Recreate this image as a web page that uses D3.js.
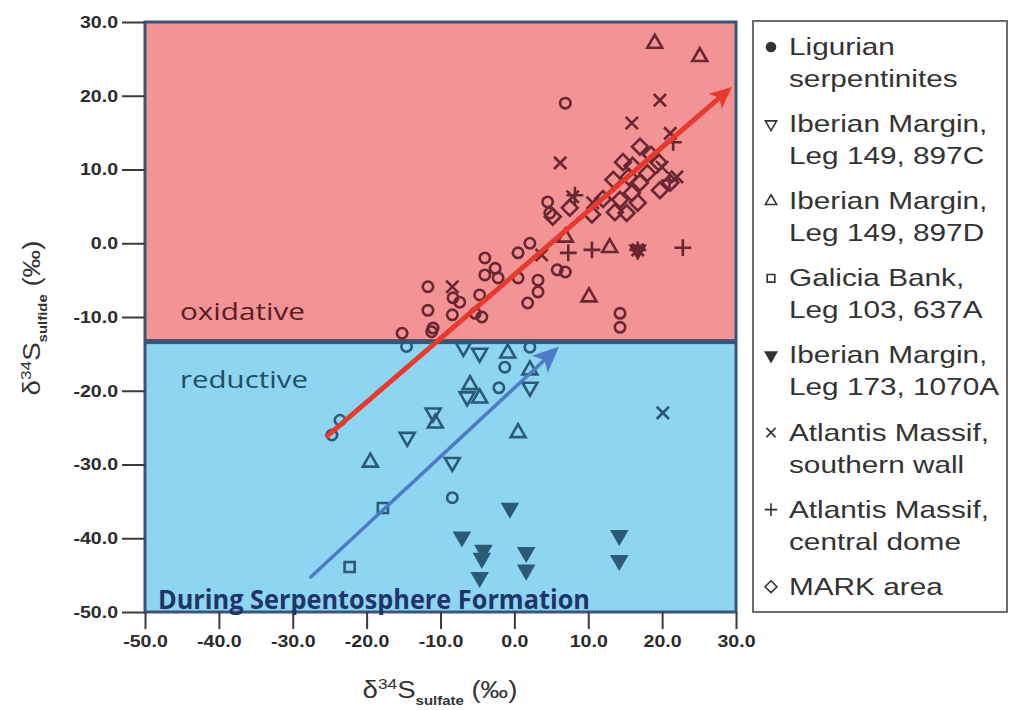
<!DOCTYPE html>
<html>
<head>
<meta charset="utf-8">
<style>
    body { margin: 0; background: #fff; }
    svg { display: block; }
    .tick text { font-family: "Liberation Sans", Arial, sans-serif; font-weight: bold; font-size: 17px; fill: #2b2b2b; }
    .tick line { stroke: #3a3a3a; stroke-width: 2; }
    .legend text { font-family: "Liberation Sans", Arial, sans-serif; font-size: 24px; fill: #333; }
    .title { font-family: "Liberation Sans", Arial, sans-serif; font-size: 24px; fill: #333; }
</style>
</head>
<body>
<div id="chart"></div>
<script src="https://cdn.jsdelivr.net/npm/d3@7"></script>
<script>

//////////////////// data ////////////////////
const xTicks = [-50, -40, -30, -20, -10, 0, 10, 20, 30];
const yTicks = [-50, -40, -30, -20, -10, 0, 10, 20, 30];
const boundary = -13.2; // oxidative above, reductive below

// [sulfate, sulfide]
const ligurian = [
    [6.9, 19.0], [-11.7, -5.9], [-11.7, -9.1], [-11.0, -11.5], [-15.2, -12.2],
    [-8.3, -7.4], [-7.4, -8.0], [-8.4, -9.7], [-4.7, -7.0], [-4.4, -10.0], [-5.3, -9.5],
    [-4.0, -2.0], [-4.0, -4.3], [-2.6, -3.4], [-2.2, -4.7], [0.5, -1.3], [2.1, 0.0],
    [0.5, -4.7], [3.2, -5.0], [3.2, -6.6], [1.8, -8.1], [5.8, -3.6], [6.9, -3.9],
    [14.3, -9.5], [14.3, -11.4], [4.5, 5.6], [4.8, 4.1],
    [-14.6, -14.0], [-11.2, -12.0], [-23.6, -24.0], [-24.7, -26.0],
    [-1.3, -16.8], [2.1, -14.1], [-2.1, -19.6], [-8.4, -34.5]
];
const iberian897C = [
    [-14.5, -26.3], [-11.0, -23.0], [-6.9, -14.1], [-4.7, -14.9], [-6.4, -20.8],
    [2.1, -19.5], [-8.4, -29.7]
];
const iberian897D = [
    [19.0, 27.1], [25.1, 25.3], [12.9, -0.6], [10.1, -7.3], [6.9, 0.8],
    [-19.5, -29.7], [-10.7, -24.4], [-0.9, -14.9], [-6.0, -19.2], [-4.7, -21.0],
    [0.5, -25.7], [2.1, -17.2]
];
const galicia637A = [[-17.8, -35.9], [-22.3, -43.9]];
const iberian1070A = [
    [-0.6, -35.9], [-7.1, -39.8], [-4.2, -41.6], [-4.4, -42.7], [-4.7, -45.3],
    [1.6, -41.9], [1.6, -44.3], [14.2, -39.6], [14.2, -43.0], [16.7, -0.9]
];
const atlantisSouth = [
    [19.7, 19.4], [15.9, 16.3], [6.2, 10.9], [20.0, 10.3], [21.1, 14.9], [22.0, 9.0],
    [7.9, 6.3], [10.6, 5.5], [3.7, -1.6], [-8.4, -5.9], [16.7, -0.9], [20.1, -23.0]
];
const atlantisDome = [
    [21.5, 13.7], [7.3, -1.3], [10.5, -0.9], [22.8, -0.6], [16.7, -0.9], [8.2, 6.5], [21.0, 8.5]
];
const markArea = [
    [13.4, 8.6], [14.3, 5.9], [15.9, 6.8], [17.0, 8.2], [15.2, 4.1], [16.7, 5.5], [13.6, 4.2],
    [19.7, 7.2], [21.1, 8.2], [17.0, 13.1], [14.7, 11.0], [5.2, 3.6], [7.5, 4.8], [10.5, 3.9],
    [16.0, 10.5], [18.5, 12.0], [12.0, 6.0], [18.0, 9.5], [19.5, 11.0], [15.5, 9.0]
];

const redArrow = [[-25.5, -26.3], [29.0, 20.8]];
const blueArrow = [[-27.7, -45.4], [5.5, -14.5]];

const legendLabels = [
    ['Ligurian', 'serpentinites'],
    ['Iberian Margin,', 'Leg 149, 897C'],
    ['Iberian Margin,', 'Leg 149, 897D'],
    ['Galicia Bank,', 'Leg 103, 637A'],
    ['Iberian Margin,', 'Leg 173, 1070A'],
    ['Atlantis Massif,', 'southern wall'],
    ['Atlantis Massif,', 'central dome'],
    ['MARK area']
];

const series = [
    { data: ligurian, kind: 'circle' },
    { data: iberian897C, kind: 'triDown' },
    { data: iberian897D, kind: 'triUp' },
    { data: galicia637A, kind: 'square' },
    { data: iberian1070A, kind: 'filledDown' },
    { data: atlantisSouth, kind: 'x' },
    { data: atlantisDome, kind: 'plus' },
    { data: markArea, kind: 'diamond' }
];

//////////////////// layout ////////////////////
const W = 1011, H = 710;
const x = d3.scaleLinear().domain([-50, 30]).range([145, 736]);
const y = d3.scaleLinear().domain([-50, 30]).range([612, 22]);

const svg = d3.select('#chart').append('svg')
    .attr('width', W)
    .attr('height', H);

const defs = svg.append('defs');
defs.append('clipPath').attr('id', 'clipOx')
    .append('rect').attr('x', 0).attr('y', 0).attr('width', W).attr('height', y(boundary));
defs.append('clipPath').attr('id', 'clipRed')
    .append('rect').attr('x', 0).attr('y', y(boundary)).attr('width', W).attr('height', H - y(boundary));

defs.append('marker').attr('id', 'headRed')
    .attr('markerUnits', 'userSpaceOnUse')
    .attr('viewBox', '0 0 20 20').attr('refX', 16).attr('refY', 10)
    .attr('markerWidth', 22).attr('markerHeight', 22).attr('orient', 'auto')
    .append('path').attr('d', 'M0,1 L20,10 L0,19 L5,10 Z').attr('fill', '#e8392d');
defs.append('marker').attr('id', 'headBlue')
    .attr('markerUnits', 'userSpaceOnUse')
    .attr('viewBox', '0 0 20 20').attr('refX', 16).attr('refY', 10)
    .attr('markerWidth', 26).attr('markerHeight', 26).attr('orient', 'auto')
    .append('path').attr('d', 'M0,1 L20,10 L0,19 L5,10 Z').attr('fill', '#4d7bc6');

// regions
svg.append('rect')
    .attr('x', x(-50)).attr('y', y(30))
    .attr('width', x(30) - x(-50)).attr('height', y(boundary) - y(30))
    .attr('fill', '#f29395').attr('stroke', '#3b5478').attr('stroke-width', 3);
svg.append('rect')
    .attr('x', x(-50)).attr('y', y(boundary) + 2)
    .attr('width', x(30) - x(-50)).attr('height', y(-50) - y(boundary) - 2)
    .attr('fill', '#8ed5f2').attr('stroke', '#3b5478').attr('stroke-width', 3);

// axes
const xAxis = svg.append('g')
    .attr('transform', `translate(0, ${y(-50)})`)
    .call(d3.axisBottom(x).tickValues(xTicks).tickFormat(d => d.toFixed(1)).tickSize(17).tickPadding(6));
xAxis.select('.domain').remove();
xAxis.selectAll('.tick text').attr('transform', 'scale(1.15,1)');

const yAxis = svg.append('g')
    .attr('transform', `translate(${x(-50)}, 0)`)
    .call(d3.axisLeft(y).tickValues(yTicks).tickFormat(d => d.toFixed(1)).tickSize(23).tickPadding(4));
yAxis.select('.domain').remove();
yAxis.selectAll('.tick text').attr('x', -27 / 1.15).attr('transform', 'scale(1.15,1)');

// region labels
svg.append('text').attr('x', 180).attr('y', 320)
    .attr('textLength', 125).attr('lengthAdjust', 'spacingAndGlyphs')
    .style('font-family', '"Open Sans", sans-serif').style('font-size', '24px').style('fill', '#5a1d25')
    .text('oxidative');
svg.append('text').attr('x', 180).attr('y', 388)
    .attr('textLength', 128).attr('lengthAdjust', 'spacingAndGlyphs')
    .style('font-family', '"Open Sans", sans-serif').style('font-size', '24px').style('fill', '#1f4d66')
    .text('reductive');

//////////////////// markers ////////////////////
const symbolTypes = {
    triDown: [d3.symbolTriangle2, 160],
    triUp: [d3.symbolTriangle2, 160],
    square: [d3.symbolSquare2, 130],
    filledDown: [d3.symbolTriangle, 150],
    x: [d3.symbolX, 100],
    plus: [d3.symbolPlus, 95],
    diamond: [d3.symbolDiamond2, 160]
};

function drawShape(g, kind, color, k, sw, legend) {
    if (kind === 'circle') {
        g.append('circle').attr('r', legend ? 4.5 : 5.2)
            .attr('fill', legend ? color : 'none')
            .attr('stroke', color).attr('stroke-width', sw);
        return;
    }
    const [type, size] = symbolTypes[kind];
    const p = g.append('path').attr('d', d3.symbol(type, size * k * k)());
    if (kind === 'triDown' || kind === 'filledDown') p.attr('transform', 'rotate(180)');
    if (kind === 'filledDown') p.attr('fill', color);
    else p.attr('fill', 'none').attr('stroke', color).attr('stroke-width', sw);
}

function drawMarkers(clipId, color) {
    const layer = svg.append('g').attr('clip-path', `url(#${clipId})`);
    series.forEach(s => {
        s.data.forEach(d => {
            const g = layer.append('g').attr('transform', `translate(${x(d[0])}, ${y(d[1])})`);
            drawShape(g, s.kind, color, 1, 2.6, false);
        });
    });
}
drawMarkers('clipOx', '#6a2631');
drawMarkers('clipRed', '#2b5a76');

// arrows
svg.append('line')
    .attr('x1', x(blueArrow[0][0])).attr('y1', y(blueArrow[0][1]))
    .attr('x2', x(blueArrow[1][0])).attr('y2', y(blueArrow[1][1]))
    .attr('stroke', '#4d7bc6').attr('stroke-width', 3.5).attr('marker-end', 'url(#headBlue)');
svg.append('line')
    .attr('x1', x(redArrow[0][0])).attr('y1', y(redArrow[0][1]))
    .attr('x2', x(redArrow[1][0])).attr('y2', y(redArrow[1][1]))
    .attr('stroke', '#e8392d').attr('stroke-width', 5).attr('marker-end', 'url(#headRed)');

svg.append('text').attr('x', 158).attr('y', 609)
    .attr('textLength', 432).attr('lengthAdjust', 'spacingAndGlyphs')
    .style('font-family', '"Open Sans", sans-serif').style('font-weight', 'bold')
    .style('font-size', '26px').style('fill', '#1f3468')
    .text('During Serpentosphere Formation');

//////////////////// axis titles ////////////////////
function axisTitle(tx, ty, rot, sub) {
    const t = svg.append('text').attr('class', 'title')
        .attr('text-anchor', 'middle')
        .attr('transform', `translate(${tx}, ${ty}) rotate(${rot}) scale(1.15,1)`);
    t.append('tspan').text('δ');
    t.append('tspan').attr('dy', -9).style('font-size', '15px').text('34');
    t.append('tspan').attr('dy', 9).text('S');
    t.append('tspan').attr('dy', 7).style('font-size', '13px').style('font-weight', 'bold').text(sub);
    t.append('tspan').attr('dy', -7).text(' (‰)');
}
axisTitle(440, 698, 0, 'sulfate');
axisTitle(40, 318, -90, 'sulfide');

//////////////////// legend ////////////////////
const legend = svg.append('g').attr('class', 'legend');
legend.append('rect')
    .attr('x', 753).attr('y', 21).attr('width', 254).attr('height', 591)
    .attr('fill', '#fff').attr('stroke', '#6d6d6d').attr('stroke-width', 2);

legendLabels.forEach((lines, i) => {
    const cy = 47 + i * 77.1;
    const g = legend.append('g').attr('transform', `translate(771, ${cy})`);
    drawShape(g, series[i].kind, '#333', 0.75, 1.6, true);
    lines.forEach((line, j) => {
        legend.append('text')
            .attr('transform', `translate(789, ${cy + 8 + j * 32}) scale(1.24,1)`)
            .text(line);
    });
});

</script>
</body>
</html>
